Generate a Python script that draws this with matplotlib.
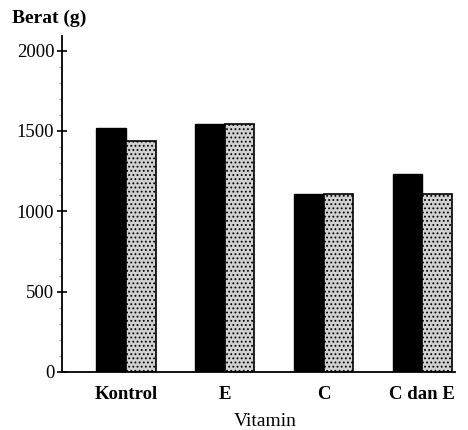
import matplotlib
matplotlib.use("Agg")
import matplotlib.pyplot as plt
import numpy as np
from matplotlib.ticker import MultipleLocator

categories = ["Kontrol", "E", "C", "C dan E"]
series_black = [1520, 1545, 1110, 1235]
series_gray = [1440, 1545, 1110, 1105]
y_ticks = [0, 500, 1000, 1500, 2000]

plt.rcParams['font.family'] = ['Liberation Serif', 'DejaVu Serif']
plt.rcParams['hatch.color'] = '#a6a6a6'
plt.rcParams['hatch.linewidth'] = 0.8

fig = plt.figure(figsize=(4.68, 4.30), dpi=100)
ax = fig.add_axes([0.1325, 0.135, 0.972 - 0.1325, 0.916 - 0.135])

x = np.arange(len(categories))
w = 0.3
ax.bar(x - w / 2, series_black, width=w, color='black', edgecolor='black', linewidth=1)
ax.bar(x + w / 2, series_gray, width=w, color='#d0d0d0', edgecolor='black', linewidth=1.2,
       hatch='....')

ax.set_xlim(-0.648, 3.33)
ax.set_ylim(0, 2090)
ax.set_yticks(y_ticks)
ax.set_yticklabels([str(v) for v in y_ticks], fontsize=13.5)
ax.yaxis.set_minor_locator(MultipleLocator(100))
ax.tick_params(axis='y', which='major', direction='inout', length=7, width=1.2, pad=2)
ax.tick_params(axis='y', which='minor', direction='out', length=2, width=0.5, color='#777777')
ax.set_xticks(x)
ax.set_xticklabels(categories, fontsize=13.5, fontweight='bold')
ax.tick_params(axis='x', length=0, pad=10)
ax.set_xlabel("Vitamin", fontsize=14)
ax.xaxis.set_label_coords(0.517, -0.122)

for s in ['top', 'right']:
    ax.spines[s].set_visible(False)
ax.spines['left'].set_linewidth(1.3)
ax.spines['bottom'].set_linewidth(1.3)

fig.text(0.026, 0.957, "Berat (g)", fontsize=14, fontweight='bold', ha='left', va='center')

fig.savefig("out.png", dpi=100)
